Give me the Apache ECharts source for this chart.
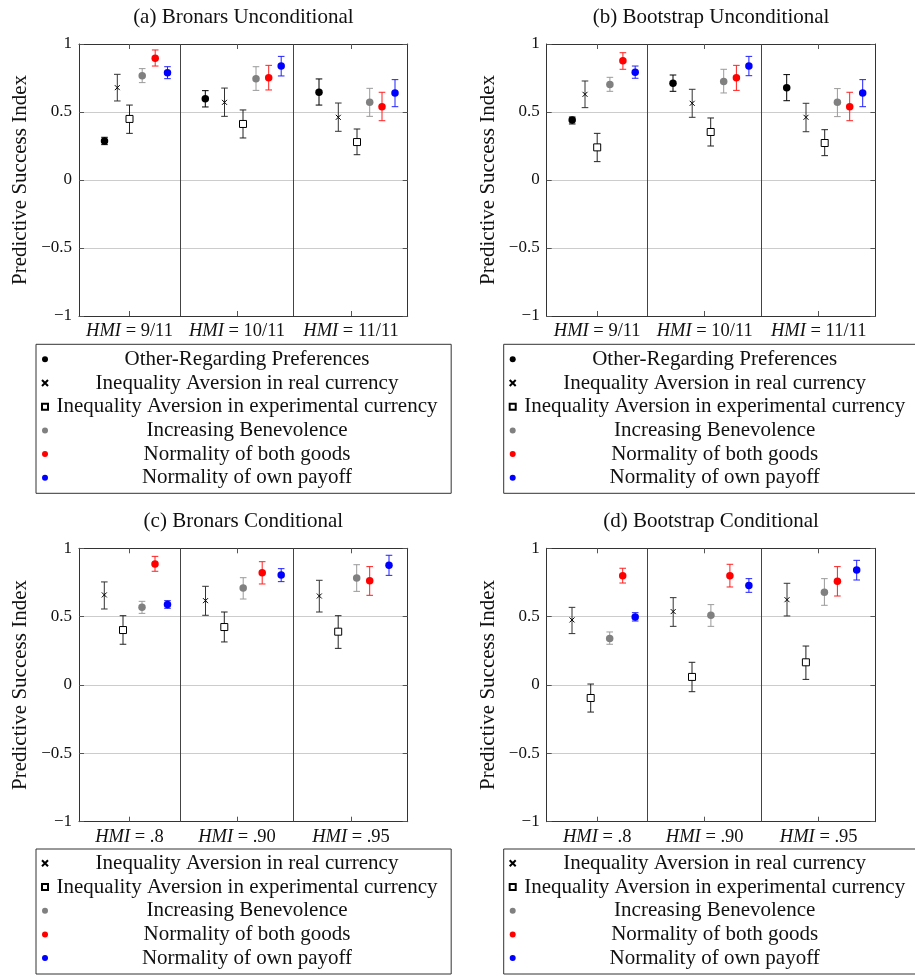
<!DOCTYPE html>
<html><head><meta charset="utf-8">
<script src="https://cdn.jsdelivr.net/npm/echarts@6/dist/echarts.min.js"></script>
<style>html,body{margin:0;padding:0;background:#fff}#c{width:915px;height:976px}</style>
</head><body><div id="c"></div>
<script>
// ---------------- DATA ----------------
const seriesUncond = ['Other-Regarding Preferences','Inequality Aversion in real currency','Inequality Aversion in experimental currency','Increasing Benevolence','Normality of both goods','Normality of own payoff'];
const seriesCond = ['Inequality Aversion in real currency','Inequality Aversion in experimental currency','Increasing Benevolence','Normality of both goods','Normality of own payoff'];
const hmiUncond = ['9/11','10/11','11/11'];
const hmiCond = ['.8','.90','.95'];
const yTickValues = [-1,-0.5,0,0.5,1];

// rows = series (order as in legend), columns = HMI groups
// (a) Bronars Unconditional
const aMean = [[0.287,0.598,0.645],[0.679,0.571,0.461],[0.449,0.412,0.279],[0.767,0.745,0.571],[0.895,0.752,0.539],[0.789,0.838,0.640]];
const aLow  = [[0.260,0.537,0.551],[0.581,0.468,0.358],[0.343,0.309,0.186],[0.716,0.659,0.468],[0.838,0.662,0.436],[0.745,0.765,0.539]];
const aHigh = [[0.314,0.657,0.743],[0.777,0.676,0.566],[0.551,0.515,0.375],[0.819,0.833,0.674],[0.956,0.843,0.645],[0.833,0.909,0.738]];
// (b) Bootstrap Unconditional
const bMean = [[0.441,0.711,0.679],[0.630,0.564,0.461],[0.240,0.353,0.272],[0.703,0.725,0.571],[0.877,0.752,0.539],[0.792,0.838,0.640]];
const bLow  = [[0.412,0.652,0.583],[0.532,0.461,0.355],[0.135,0.250,0.179],[0.652,0.640,0.466],[0.814,0.659,0.436],[0.748,0.767,0.539]];
const bHigh = [[0.463,0.772,0.775],[0.728,0.667,0.564],[0.343,0.456,0.370],[0.755,0.814,0.672],[0.936,0.843,0.645],[0.838,0.909,0.738]];
// (c) Bronars Conditional
const cMean = [[0.659,0.617,0.651],[0.402,0.424,0.390],[0.568,0.710,0.783],[0.885,0.822,0.763],[0.588,0.805,0.876]];
const cLow  = [[0.556,0.510,0.534],[0.298,0.315,0.268],[0.524,0.629,0.685],[0.832,0.739,0.656],[0.561,0.756,0.802]];
const cHigh = [[0.754,0.722,0.766],[0.507,0.534,0.507],[0.612,0.785,0.880],[0.941,0.902,0.866],[0.617,0.851,0.949]];
// (d) Bootstrap Conditional
const dMean = [[0.476,0.537,0.624],[-0.095,0.059,0.166],[0.341,0.510,0.678],[0.800,0.800,0.759],[0.498,0.727,0.841]];
const dLow  = [[0.376,0.429,0.505],[-0.198,-0.049,0.041],[0.298,0.429,0.583],[0.746,0.717,0.651],[0.468,0.678,0.768]];
const dHigh = [[0.568,0.639,0.744],[0.007,0.166,0.285],[0.388,0.588,0.778],[0.854,0.883,0.866],[0.529,0.778,0.912]];

// ---------------- LAYOUT (positions along the x axis, not data) ----------------
const X_MAX = 328.7;
const TICK_POS = [50.5, 158, 272];
const SEP_POS = [100.8, 214.6];
const DODGE_UNCOND = [[25.5,126.3,240],[38.3,145.5,259.3],[50.5,164,278],[63.2,177,290.7],[76.2,189.7,303],[88.5,202.2,316]];
const DODGE_COND = [[25.3,126.5,240.3],[44,145.3,259.2],[63,164.2,277.7],[76,183.2,290.7],[88.5,202.2,310]];

const FONT = 'Liberation Serif';
const TXT = '#111';
const STYLE = {
  'Other-Regarding Preferences': {symbol:'circle', size:7.5, fill:'#000', border:'#000', bw:0, err:'#000'},
  'Inequality Aversion in real currency': {symbol:'path://M0,0L10,10M10,0L0,10', size:5, fill:'#000', border:'#000', bw:1, err:'#333'},
  'Inequality Aversion in experimental currency': {symbol:'rect', size:7, fill:'#fff', border:'#000', bw:1, err:'#222'},
  'Increasing Benevolence': {symbol:'circle', size:7.5, fill:'#808080', border:'#808080', bw:0, err:'#9a9a9a'},
  'Normality of both goods': {symbol:'circle', size:7.5, fill:'#ff0000', border:'#ff0000', bw:0, err:'#ff2020'},
  'Normality of own payoff': {symbol:'circle', size:7.5, fill:'#0000ff', border:'#0000ff', bw:0, err:'#2020ff'}
};

const panels = [
  {title:'(a) Bronars Unconditional', left:79, top:44, height:272, names:seriesUncond, hmi:hmiUncond, mean:aMean, low:aLow, high:aHigh, dodge:DODGE_UNCOND, lg:{left:36, top:344.3, pad:[4.5,13.7,5,5]}},
  {title:'(b) Bootstrap Unconditional', left:546.7, top:44, height:272, names:seriesUncond, hmi:hmiUncond, mean:bMean, low:bLow, high:bHigh, dodge:DODGE_UNCOND, lg:{left:503.7, top:344.3, pad:[4.5,13.7,5,5]}},
  {title:'(c) Bronars Conditional', left:79, top:548.3, height:273.4, names:seriesCond, hmi:hmiCond, mean:cMean, low:cLow, high:cHigh, dodge:DODGE_COND, lg:{left:36, top:849, pad:[3.8,13.7,5.4,5]}},
  {title:'(d) Bootstrap Conditional', left:546.7, top:548.3, height:273.4, names:seriesCond, hmi:hmiCond, mean:dMean, low:dLow, high:dHigh, dodge:DODGE_COND, lg:{left:503.7, top:849, pad:[3.8,13.7,5.4,5]}}
];

function fmtY(v){ return (v < 0 ? '\u2212' : '') + String(Math.abs(v)); }
function nearestIdx(arr, v){ let b=0; for (let k=1;k<arr.length;k++) if (Math.abs(arr[k]-v) < Math.abs(arr[b]-v)) b=k; return b; }

const option = {animation:false, backgroundColor:'#fff', grid:[], xAxis:[], yAxis:[], series:[], title:[], legend:[]};

panels.forEach((p, i) => {
  option.grid.push({left:p.left, top:p.top, width:X_MAX, height:p.height, show:false, outerBoundsMode:'none', containLabel:false});
  option.title.push({text:p.title, left:p.left + X_MAX/2, top:p.top - 38, textAlign:'center', padding:0,
    textStyle:{fontFamily:FONT, fontSize:21, fontWeight:'normal', color:TXT, lineHeight:22}});
  const tickCommon = {show:true, inside:true, length:5, customValues:TICK_POS, lineStyle:{color:'#555', width:1}};
  option.xAxis.push({gridIndex:i, type:'value', min:0, max:X_MAX, position:'bottom',
    axisLine:{show:true, onZero:false, lineStyle:{color:'#333', width:1}},
    splitLine:{show:false}, axisTick:tickCommon,
    axisLabel:{show:true, customValues:TICK_POS, margin:6, hideOverlap:false,
      formatter:(v) => '{i|HMI}{n| = ' + p.hmi[nearestIdx(TICK_POS, v)] + '}',
      rich:{i:{fontFamily:FONT, fontSize:18.5, fontStyle:'italic', color:TXT}, n:{fontFamily:FONT, fontSize:18.5, color:TXT}}}});
  option.xAxis.push({gridIndex:i, type:'value', min:0, max:X_MAX, position:'top',
    axisLine:{show:true, onZero:false, lineStyle:{color:'#333', width:1}},
    splitLine:{show:false}, axisTick:tickCommon, axisLabel:{show:false}});
  option.yAxis.push({gridIndex:i, type:'value', min:-1, max:1, interval:0.5, position:'left',
    axisLine:{show:true, onZero:false, lineStyle:{color:'#333', width:1}},
    axisTick:{show:true, inside:true, length:5, lineStyle:{color:'#555'}},
    splitLine:{show:true, showMinLine:false, showMaxLine:false, lineStyle:{color:'#cccccc', width:1}},
    axisLabel:{formatter:fmtY, margin:7, fontFamily:FONT, fontSize:17, color:TXT},
    name:'Predictive Success Index', nameLocation:'middle', nameGap:48, nameMoveOverlap:false,
    nameTextStyle:{fontFamily:FONT, fontSize:21, color:TXT}});
  option.yAxis.push({gridIndex:i, type:'value', min:-1, max:1, interval:0.5, position:'right',
    axisLine:{show:true, onZero:false, lineStyle:{color:'#333', width:1}},
    axisTick:{show:true, inside:true, length:5, lineStyle:{color:'#555'}},
    splitLine:{show:false}, axisLabel:{show:false}});

  p.names.forEach((name, s) => {
    const st = STYLE[name];
    const errData = p.hmi.map((h, g) => [p.dodge[s][g], p.low[s][g], p.high[s][g]]);
    option.series.push({type:'custom', name:name + ' (interval)', xAxisIndex:2*i, yAxisIndex:2*i, silent:true, z:2,
      data:errData, encode:{x:0, y:[1,2]},
      renderItem:(params, api) => {
        const x = api.value(0);
        const lo = api.coord([x, api.value(1)]);
        const hi = api.coord([x, api.value(2)]);
        const c = 3.3;
        const ls = {stroke:st.err, lineWidth:1};
        return {type:'group', children:[
          {type:'line', shape:{x1:lo[0], y1:lo[1], x2:hi[0], y2:hi[1]}, style:ls},
          {type:'line', shape:{x1:lo[0]-c, y1:lo[1], x2:lo[0]+c, y2:lo[1]}, style:ls},
          {type:'line', shape:{x1:hi[0]-c, y1:hi[1], x2:hi[0]+c, y2:hi[1]}, style:ls}
        ]};
      }});
    const sc = {type:'scatter', name:name, xAxisIndex:2*i, yAxisIndex:2*i, z:3, silent:true,
      symbol:st.symbol, symbolSize:st.size,
      itemStyle:{color:st.fill, borderColor:st.border, borderWidth:st.bw, opacity:1},
      emphasis:{disabled:true},
      data:p.hmi.map((h, g) => [p.dodge[s][g], p.mean[s][g]])};
    if (s === 0) {
      sc.markLine = {silent:true, symbol:['none','none'], label:{show:false}, emphasis:{disabled:true},
        lineStyle:{color:'#444', width:1, type:'solid'}, data:SEP_POS.map(x => ({xAxis:x}))};
    }
    option.series.push(sc);
  });

  option.legend.push({left:p.lg.left, top:p.lg.top, orient:'vertical', data:p.names, selectedMode:false,
    itemWidth:6, itemHeight:6, itemGap:2.7, padding:p.lg.pad, borderColor:'#333', borderWidth:1, borderRadius:0,
    backgroundColor:'transparent',
    formatter:(n) => '{t|' + n + '}',
    textStyle:{fontFamily:FONT, fontSize:21, color:TXT,
      rich:{t:{width:388, align:'center', fontFamily:FONT, fontSize:21, color:TXT}}}});
});

const chart = echarts.init(document.getElementById('c'), null, {renderer:'canvas'});
chart.setOption(option);
</script>
</body></html>
